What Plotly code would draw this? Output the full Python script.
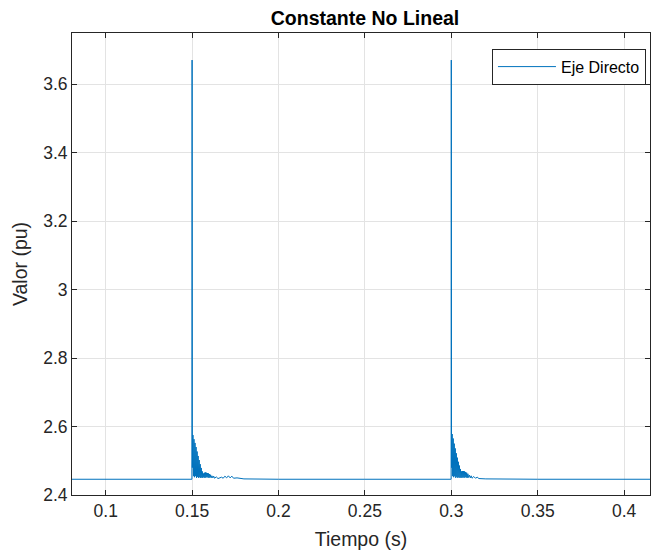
import plotly.graph_objects as go

# ---- data ----
t_pre = [0.0800, 0.1000, 0.1200, 0.1400, 0.1499]
v_pre = [2.446, 2.446, 2.446, 2.446, 2.446]

t_tr1 = [0.15000, 0.15015, 0.15050, 0.15080, 0.15110, 0.15140, 0.15170, 0.15200,
         0.15230, 0.15260, 0.15290, 0.15320, 0.15350, 0.15380, 0.15410, 0.15440,
         0.15470, 0.15500, 0.15530, 0.15560, 0.15590, 0.15620, 0.15650, 0.15680,
         0.15710, 0.15740, 0.15770, 0.15800, 0.15830, 0.15860, 0.15890, 0.15920,
         0.15950, 0.15980, 0.16010, 0.16040, 0.16070, 0.16100, 0.16150, 0.16200,
         0.16250, 0.16300, 0.16400, 0.16500, 0.16600, 0.16700, 0.16800, 0.16900,
         0.17000, 0.17100, 0.17200, 0.17300, 0.17400, 0.17600, 0.18000]
v_tr1 = [3.670, 2.480, 2.575, 2.455, 2.563, 2.452, 2.552, 2.455,
         2.540, 2.450, 2.527, 2.453, 2.514, 2.450, 2.502, 2.452,
         2.490, 2.450, 2.479, 2.451, 2.469, 2.450, 2.463, 2.452,
         2.465, 2.450, 2.466, 2.451, 2.465, 2.452, 2.464, 2.451,
         2.463, 2.450, 2.461, 2.452, 2.459, 2.450, 2.456, 2.450,
         2.455, 2.449, 2.453, 2.448, 2.450, 2.452, 2.449, 2.455,
         2.450, 2.456, 2.450, 2.455, 2.449, 2.450, 2.447]

t_mid = [0.2000, 0.2500, 0.2999]
v_mid = [2.446, 2.446, 2.446]

t_tr2 = [0.30000, 0.30015, 0.30050, 0.30080, 0.30110, 0.30140, 0.30170, 0.30200,
         0.30230, 0.30260, 0.30290, 0.30320, 0.30350, 0.30380, 0.30410, 0.30440,
         0.30470, 0.30500, 0.30530, 0.30560, 0.30590, 0.30620, 0.30650, 0.30680,
         0.30710, 0.30740, 0.30770, 0.30800, 0.30830, 0.30860, 0.30890, 0.30920,
         0.30960, 0.31000, 0.31050, 0.31100, 0.31150, 0.31200, 0.31300, 0.31400,
         0.31500, 0.31600, 0.32000]
v_tr2 = [3.670, 2.480, 2.578, 2.455, 2.565, 2.452, 2.550, 2.455,
         2.536, 2.450, 2.522, 2.453, 2.509, 2.450, 2.497, 2.452,
         2.486, 2.450, 2.476, 2.451, 2.469, 2.450, 2.470, 2.452,
         2.470, 2.450, 2.469, 2.452, 2.467, 2.451, 2.465, 2.450,
         2.462, 2.451, 2.458, 2.450, 2.456, 2.449, 2.454, 2.449,
         2.452, 2.448, 2.447]

t_post = [0.3500, 0.4000, 0.4160]
v_post = [2.446, 2.446, 2.446]

x_ticks = [0.1, 0.15, 0.2, 0.25, 0.3, 0.35, 0.4]
x_tick_text = ["0.1", "0.15", "0.2", "0.25", "0.3", "0.35", "0.4"]
y_ticks = [2.4, 2.6, 2.8, 3.0, 3.2, 3.4, 3.6]
y_tick_text = ["2.4", "2.6", "2.8", "3", "3.2", "3.4", "3.6"]

t_all = t_pre + t_tr1 + t_mid + t_tr2 + t_post
v_all = v_pre + v_tr1 + v_mid + v_tr2 + v_post

axis_col = "#262626"
grid_col = "#e3e3e3"
font_fam = "Liberation Sans, Arial, Helvetica, sans-serif"

fig = go.Figure()
fig.add_trace(go.Scatter(x=t_all, y=v_all, mode="lines", name="Eje Directo",
                         line=dict(color="#0072BD", width=1)))

fig.update_layout(
    width=651, height=556,
    margin=dict(l=72, r=1, t=33, b=61),
    paper_bgcolor="white", plot_bgcolor="white",
    font=dict(family=font_fam, color=axis_col, size=17.5),
    title=dict(text="<b>Constante No Lineal</b>", x=(365 / 651), xanchor="center",
               y=1 - 18 / 556, yanchor="middle",
               font=dict(size=19.5, color="black", family=font_fam)),
    showlegend=True,
    legend=dict(x=0.993, xanchor="right", y=0.966, yanchor="top",
                bgcolor="white", bordercolor=axis_col, borderwidth=1,
                font=dict(size=16, color="black", family=font_fam),
                itemwidth=58, tracegroupgap=0),
)
fig.update_xaxes(range=[0.0805, 0.4150], tickvals=x_ticks, ticktext=x_tick_text,
                 showgrid=True, gridcolor=grid_col, gridwidth=1,
                 showline=True, linecolor=axis_col, linewidth=1, mirror="ticks",
                 ticks="inside", ticklen=5, tickcolor=axis_col,
                 tickfont=dict(size=17.5, color=axis_col),
                 zeroline=False,
                 title=dict(text="Tiempo (s)", font=dict(size=19.5, color=axis_col), standoff=12))
fig.update_yaxes(range=[2.4, 3.749], tickvals=y_ticks, ticktext=y_tick_text,
                 showgrid=True, gridcolor=grid_col, gridwidth=1,
                 showline=True, linecolor=axis_col, linewidth=1, mirror="ticks",
                 ticks="inside", ticklen=5, tickcolor=axis_col,
                 tickfont=dict(size=17.5, color=axis_col),
                 zeroline=False,
                 title=dict(text="Valor (pu)", font=dict(size=19.5, color=axis_col), standoff=10))

fig.write_html("out.html")
